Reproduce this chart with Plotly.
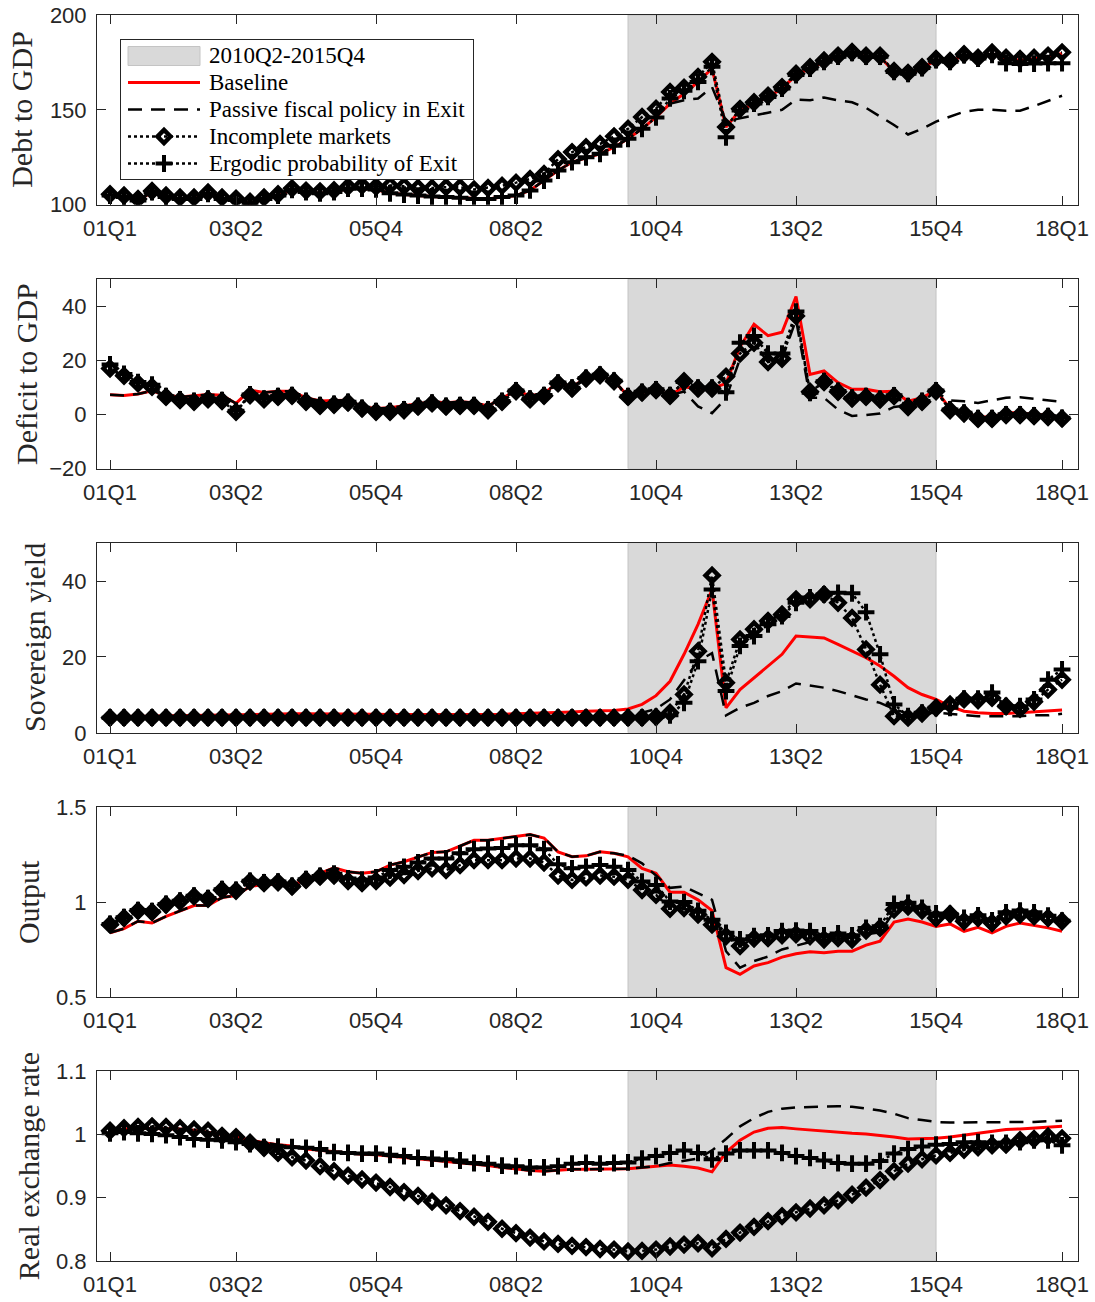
import plotly.graph_objects as go

# Quarterly sample 2001Q1 - 2018Q1
quarters = [f"{y % 100:02d}Q{q}" for y in range(2001, 2019) for q in range(1, 5)][:69]
tick_quarters = ["01Q1", "03Q2", "05Q4", "08Q2", "10Q4", "13Q2", "15Q4", "18Q1"]
shade_start, shade_end = "10Q2", "15Q4"
shade_label = "2010Q2-2015Q4"

series_names = ["Baseline", "Passive fiscal policy in Exit",
                "Incomplete markets", "Ergodic probability of Exit"]

# ---- Debt to GDP ----
debt_baseline = [104.8, 104.0, 102.2, 106.6, 104.0, 103.0, 103.0, 105.7, 103.0, 102.5,
                 100.7, 103.0, 104.8, 107.8, 106.6, 106.0, 106.6, 108.5, 108.5, 108.0,
                 106.0, 105.3, 104.8, 104.3, 104.0, 103.6, 103.0, 103.0, 104.0, 104.8,
                 107.5, 112.7, 118.0, 122.4, 124.5, 126.8, 130.3, 134.7, 140.0, 146.2,
                 153.3, 158.5, 164.7, 171.8, 140.9, 149.7, 153.3, 156.8, 161.2, 168.3,
                 171.8, 175.3, 178.0, 180.0, 178.0, 178.0, 170.0, 169.0, 172.0, 176.2,
                 175.3, 178.8, 177.0, 179.7, 177.0, 176.2, 177.0, 178.0, 179.7]
debt_passive = [104.8, 104.0, 102.2, 106.6, 104.0, 103.0, 103.0, 105.7, 103.0, 102.5,
                100.7, 103.0, 104.8, 107.8, 106.6, 106.0, 106.6, 108.5, 108.5, 108.0,
                106.0, 105.3, 104.8, 104.3, 104.0, 103.6, 103.0, 103.0, 104.0, 104.8,
                107.5, 112.7, 118.0, 122.4, 124.5, 126.8, 130.3, 134.7, 140.0, 146.2,
                153.3, 155.0, 156.0, 162.0, 144.0, 145.6, 147.0, 148.5, 150.0, 155.5,
                155.0, 156.5, 155.0, 154.0, 151.0, 146.5, 142.0, 137.0, 140.0, 143.8,
                146.5, 149.0, 150.0, 150.0, 149.5, 149.5, 152.0, 154.6, 157.4]
debt_incomplete = [105.5, 104.8, 103.0, 107.2, 104.8, 103.8, 103.8, 106.4, 103.8, 103.2,
                   101.5, 103.8, 105.5, 108.6, 107.4, 107.0, 107.6, 109.5, 110.1, 109.5,
                   110.1, 109.7, 108.8, 108.8, 109.2, 109.2, 108.0, 108.8, 110.0, 111.6,
                   113.5, 116.2, 124.0, 127.7, 130.3, 132.0, 136.0, 140.0, 146.2, 150.6,
                   159.4, 161.7, 167.4, 175.3, 140.9, 150.5, 154.0, 157.5, 162.0, 169.0,
                   172.5, 176.0, 178.6, 180.5, 178.5, 178.5, 170.5, 169.5, 172.5, 176.8,
                   175.8, 179.3, 177.5, 180.2, 177.5, 176.8, 177.5, 178.6, 180.3]
debt_ergodic = [104.8, 104.0, 102.2, 106.6, 104.0, 103.0, 103.0, 105.7, 103.0, 102.5,
                100.7, 103.0, 104.8, 107.8, 106.6, 106.0, 106.6, 108.5, 108.5, 108.0,
                106.0, 105.3, 104.8, 104.3, 104.0, 103.6, 103.0, 103.0, 104.0, 104.8,
                107.5, 112.7, 118.0, 122.4, 125.0, 126.8, 131.0, 134.7, 140.0, 146.0,
                156.0, 160.0, 164.7, 172.7, 135.5, 149.7, 153.3, 156.8, 161.2, 168.3,
                171.8, 175.3, 178.0, 180.0, 178.0, 178.0, 170.0, 169.0, 172.0, 176.2,
                175.3, 178.8, 177.0, 179.0, 174.6, 174.2, 174.4, 174.6, 174.6]

# ---- Deficit to GDP ----
deficit_baseline = [7.3, 7.0, 7.6, 8.8, 7.1, 6.5, 6.9, 7.4, 7.1, 4.1,
                    9.0, 8.1, 8.6, 8.6, 6.2, 5.0, 5.2, 5.3, 2.9, 2.2,
                    2.5, 3.2, 4.1, 4.7, 4.4, 4.7, 4.4, 3.2, 5.9, 9.0,
                    6.9, 7.8, 11.9, 10.2, 13.5, 14.5, 12.3, 6.9, 8.1, 9.0,
                    7.1, 10.2, 9.6, 9.6, 11.5, 25.0, 33.3, 29.1, 30.4, 43.6,
                    14.8, 16.1, 11.8, 9.3, 9.3, 8.4, 8.6, 4.9, 6.2, 9.0,
                    2.2, 0.7, -0.9, -0.9, 0.7, 0.7, 0.0, -0.2, -1.2]
deficit_passive = [7.3, 7.0, 7.6, 8.8, 7.1, 6.5, 6.9, 7.4, 7.1, 4.1,
                   9.0, 8.1, 8.6, 8.6, 6.2, 5.0, 5.2, 5.3, 2.9, 2.2,
                   2.5, 3.2, 4.1, 4.7, 4.4, 4.7, 4.4, 3.2, 5.9, 9.0,
                   6.9, 7.8, 11.9, 10.2, 13.5, 14.5, 12.3, 6.9, 8.1, 9.0,
                   7.1, 8.5, 3.0, 0.5, 6.0, 20.6, 25.0, 20.0, 20.6, 35.0,
                   6.2, 6.2, 1.8, -0.5, -0.2, 0.4, 2.8, 3.4, 4.7, 8.2,
                   5.2, 4.9, 4.3, 5.2, 6.2, 6.4, 5.9, 5.2, 4.7]
deficit_incomplete = [17.0, 14.3, 11.5, 10.2, 6.5, 5.3, 4.7, 5.6, 5.0, 1.0,
                      7.1, 5.6, 6.5, 6.9, 4.7, 3.2, 3.6, 4.4, 2.2, 1.0,
                      1.0, 1.6, 2.9, 4.1, 2.9, 3.2, 3.2, 1.6, 4.7, 8.6,
                      5.6, 6.9, 11.5, 9.6, 13.3, 14.5, 12.3, 6.5, 8.1, 9.0,
                      6.9, 12.3, 9.6, 9.6, 14.0, 22.5, 26.5, 19.4, 20.6, 36.4,
                      8.4, 12.0, 8.4, 5.9, 6.5, 5.5, 6.8, 2.8, 4.7, 8.6,
                      1.6, 0.4, -1.6, -1.6, -0.2, -0.2, -0.6, -0.9, -1.5]
deficit_ergodic = [18.5, 15.0, 12.0, 11.0, 6.8, 5.6, 5.0, 5.9, 5.3, 1.4,
                   7.4, 5.9, 6.8, 7.2, 5.0, 3.5, 3.9, 4.7, 2.5, 1.3,
                   1.3, 1.9, 3.2, 4.4, 3.2, 3.5, 3.5, 1.9, 5.0, 8.9,
                   5.9, 7.2, 11.8, 9.9, 13.5, 14.7, 12.5, 6.8, 8.4, 9.3,
                   7.2, 12.0, 9.9, 9.9, 8.2, 26.5, 29.0, 22.5, 22.5, 38.0,
                   8.0, 12.3, 8.7, 6.2, 6.8, 5.8, 7.1, 3.1, 5.0, 8.9,
                   1.9, 0.7, -1.3, -1.3, 0.1, 0.1, -0.3, -0.6, -1.2]

# ---- Sovereign yield ----
yield_baseline = [4.3, 4.3, 4.4, 4.4, 4.5, 4.5, 4.6, 4.6, 4.7, 4.8,
                  4.9, 4.9, 5.0, 5.0, 5.0, 5.0, 5.0, 5.0, 4.9, 4.9,
                  4.8, 4.8, 4.8, 4.8, 4.8, 4.8, 4.8, 4.9, 4.9, 5.0,
                  5.1, 5.2, 5.4, 5.5, 5.7, 5.8, 5.9, 6.3, 7.5, 9.8,
                  13.6, 20.7, 28.6, 37.8, 6.6, 11.4, 14.5, 17.6, 20.7, 25.5,
                  25.2, 25.0, 23.3, 21.5, 19.8, 17.6, 14.9, 11.9, 10.1, 8.8,
                  7.0, 5.7, 5.3, 5.1, 5.1, 5.3, 5.5, 5.7, 6.0]
yield_passive = [4.2, 4.2, 4.2, 4.2, 4.2, 4.2, 4.2, 4.2, 4.2, 4.2,
                 4.2, 4.2, 4.2, 4.2, 4.2, 4.2, 4.2, 4.2, 4.2, 4.2,
                 4.2, 4.2, 4.2, 4.2, 4.2, 4.2, 4.2, 4.2, 4.2, 4.2,
                 4.2, 4.2, 4.2, 4.2, 4.3, 4.3, 4.4, 4.6, 5.3, 6.3,
                 8.8, 14.0, 18.9, 21.0, 4.6, 6.6, 7.9, 9.7, 11.0, 13.0,
                 12.5, 11.9, 11.0, 9.8, 8.8, 7.9, 6.3, 5.0, 5.0, 5.3,
                 5.0, 4.6, 4.4, 4.4, 4.4, 4.4, 4.6, 4.6, 5.0]
yield_incomplete = [4.0, 4.0, 4.0, 4.0, 4.0, 4.0, 4.0, 4.0, 4.0, 4.0,
                    4.0, 4.0, 4.0, 4.0, 4.0, 4.0, 4.0, 4.0, 4.0, 4.0,
                    4.0, 4.0, 4.0, 4.0, 4.0, 4.0, 4.0, 4.0, 4.0, 4.0,
                    4.0, 4.0, 4.0, 4.0, 4.0, 4.0, 4.0, 4.0, 4.0, 4.2,
                    5.3, 10.1, 21.5, 41.5, 13.2, 24.6, 27.3, 29.5, 31.2, 35.2,
                    35.2, 36.5, 34.3, 30.3, 22.0, 12.7, 4.4, 4.0, 5.1, 6.6,
                    7.5, 8.8, 8.6, 9.2, 7.0, 6.3, 8.2, 11.4, 14.0]
yield_ergodic = [4.0, 4.0, 4.0, 4.0, 4.0, 4.0, 4.0, 4.0, 4.0, 4.0,
                 4.0, 4.0, 4.0, 4.0, 4.0, 4.0, 4.0, 4.0, 4.0, 4.0,
                 4.0, 4.0, 4.0, 4.0, 4.0, 4.0, 4.0, 4.0, 4.0, 4.0,
                 4.0, 4.0, 4.0, 4.0, 4.0, 4.0, 4.0, 4.0, 4.0, 4.2,
                 4.6, 7.9, 18.9, 37.8, 11.0, 22.9, 25.5, 28.6, 30.8, 34.3,
                 35.7, 36.5, 36.9, 36.8, 31.8, 20.7, 7.5, 4.4, 5.3, 6.6,
                 6.6, 9.0, 9.0, 10.6, 7.0, 7.0, 8.8, 14.0, 16.7]

# ---- Output ----
output_baseline = [0.838, 0.860, 0.899, 0.890, 0.925, 0.955, 0.982, 0.982, 1.024, 1.035,
                   1.082, 1.094, 1.094, 1.090, 1.117, 1.152, 1.181, 1.160, 1.152, 1.160,
                   1.195, 1.213, 1.239, 1.262, 1.265, 1.296, 1.326, 1.326, 1.335, 1.347,
                   1.356, 1.338, 1.265, 1.239, 1.244, 1.265, 1.257, 1.239, 1.178, 1.152,
                   1.052, 1.052, 1.012, 0.955, 0.654, 0.619, 0.663, 0.681, 0.710, 0.728,
                   0.738, 0.733, 0.741, 0.741, 0.773, 0.794, 0.895, 0.911, 0.895, 0.872,
                   0.885, 0.846, 0.867, 0.838, 0.872, 0.890, 0.878, 0.864, 0.846]
output_passive = [0.838, 0.860, 0.899, 0.890, 0.925, 0.955, 0.982, 0.982, 1.024, 1.035,
                  1.082, 1.094, 1.094, 1.090, 1.117, 1.152, 1.181, 1.160, 1.152, 1.160,
                  1.195, 1.213, 1.239, 1.262, 1.265, 1.296, 1.326, 1.326, 1.335, 1.347,
                  1.356, 1.338, 1.265, 1.239, 1.244, 1.265, 1.257, 1.245, 1.204, 1.140,
                  1.075, 1.082, 1.045, 1.012, 0.741, 0.654, 0.689, 0.713, 0.750, 0.768,
                  0.790, 0.800, 0.810, 0.810, 0.830, 0.840, 0.950, 0.975, 0.955, 0.925,
                  0.940, 0.905, 0.920, 0.895, 0.925, 0.935, 0.928, 0.918, 0.900]
output_incomplete = [0.881, 0.916, 0.954, 0.948, 0.986, 1.003, 1.030, 1.017, 1.064, 1.060,
                     1.108, 1.100, 1.104, 1.082, 1.117, 1.134, 1.140, 1.111, 1.100, 1.111,
                     1.129, 1.143, 1.164, 1.178, 1.169, 1.195, 1.221, 1.221, 1.221, 1.230,
                     1.230, 1.209, 1.140, 1.117, 1.130, 1.140, 1.134, 1.117, 1.064, 1.038,
                     0.965, 0.969, 0.934, 0.881, 0.820, 0.768, 0.808, 0.810, 0.825, 0.830,
                     0.820, 0.803, 0.810, 0.803, 0.850, 0.864, 0.960, 0.977, 0.955, 0.916,
                     0.937, 0.899, 0.916, 0.890, 0.925, 0.934, 0.925, 0.916, 0.899]
output_ergodic = [0.885, 0.920, 0.958, 0.952, 0.990, 1.007, 1.034, 1.021, 1.068, 1.064,
                  1.112, 1.104, 1.108, 1.086, 1.121, 1.138, 1.150, 1.125, 1.118, 1.130,
                  1.169, 1.186, 1.209, 1.230, 1.230, 1.257, 1.279, 1.282, 1.285, 1.300,
                  1.300, 1.279, 1.199, 1.178, 1.186, 1.195, 1.186, 1.169, 1.108, 1.090,
                  1.003, 1.000, 0.954, 0.907, 0.838, 0.803, 0.820, 0.825, 0.847, 0.850,
                  0.847, 0.825, 0.835, 0.825, 0.864, 0.873, 0.990, 0.996, 0.970, 0.940,
                  0.937, 0.916, 0.930, 0.904, 0.946, 0.955, 0.946, 0.928, 0.902]

# ---- Real exchange rate ----
rer_baseline = [1.006, 1.009, 1.010, 1.010, 1.010, 1.009, 1.007, 1.004, 1.000, 0.996,
                0.991, 0.987, 0.984, 0.982, 0.977, 0.975, 0.972, 0.970, 0.969, 0.968,
                0.966, 0.963, 0.961, 0.959, 0.957, 0.955, 0.953, 0.951, 0.948, 0.945,
                0.943, 0.942, 0.944, 0.945, 0.945, 0.945, 0.945, 0.946, 0.948, 0.950,
                0.952, 0.950, 0.947, 0.941, 0.972, 0.991, 1.004, 1.010, 1.011, 1.009,
                1.007, 1.005, 1.004, 1.002, 1.001, 0.999, 0.996, 0.993, 0.993, 0.994,
                0.996, 0.999, 1.003, 1.006, 1.008, 1.009, 1.010, 1.011, 1.013]
rer_passive = [1.006, 1.009, 1.010, 1.010, 1.010, 1.009, 1.007, 1.004, 1.000, 0.996,
               0.991, 0.987, 0.984, 0.982, 0.977, 0.975, 0.972, 0.970, 0.969, 0.968,
               0.966, 0.963, 0.961, 0.959, 0.957, 0.955, 0.953, 0.951, 0.948, 0.945,
               0.943, 0.942, 0.944, 0.945, 0.945, 0.945, 0.945, 0.946, 0.948, 0.950,
               0.955, 0.958, 0.962, 0.975, 0.993, 1.013, 1.026, 1.036, 1.041, 1.043,
               1.044, 1.045, 1.045, 1.044, 1.041, 1.038, 1.033, 1.026, 1.023, 1.020,
               1.019, 1.019, 1.020, 1.020, 1.020, 1.020, 1.020, 1.021, 1.022]
rer_incomplete = [1.006, 1.010, 1.012, 1.013, 1.012, 1.010, 1.008, 1.006, 0.998, 0.996,
                  0.987, 0.979, 0.971, 0.964, 0.959, 0.950, 0.942, 0.935, 0.929, 0.924,
                  0.917, 0.909, 0.903, 0.894, 0.888, 0.879, 0.870, 0.862, 0.851, 0.844,
                  0.837, 0.831, 0.827, 0.824, 0.822, 0.819, 0.818, 0.815, 0.816, 0.818,
                  0.823, 0.826, 0.828, 0.820, 0.835, 0.845, 0.854, 0.863, 0.871, 0.877,
                  0.883, 0.888, 0.896, 0.905, 0.916, 0.928, 0.942, 0.954, 0.961, 0.967,
                  0.971, 0.976, 0.980, 0.983, 0.984, 0.991, 0.993, 0.997, 0.994]
rer_ergodic = [1.002, 1.004, 1.002, 1.001, 0.999, 0.996, 0.993, 0.992, 0.991, 0.988,
               0.985, 0.980, 0.981, 0.980, 0.979, 0.977, 0.972, 0.971, 0.970, 0.970,
               0.968, 0.966, 0.963, 0.962, 0.961, 0.959, 0.955, 0.954, 0.951, 0.950,
               0.948, 0.948, 0.950, 0.954, 0.955, 0.954, 0.955, 0.956, 0.962, 0.966,
               0.971, 0.975, 0.971, 0.961, 0.970, 0.975, 0.975, 0.975, 0.971, 0.966,
               0.963, 0.959, 0.955, 0.954, 0.954, 0.958, 0.970, 0.977, 0.981, 0.984,
               0.985, 0.988, 0.988, 0.987, 0.987, 0.988, 0.991, 0.991, 0.983]

panels = [
    dict(title="Debt to GDP", yrange=[100, 200], yticks=[100, 150, 200], title_px=22,
         data=[debt_baseline, debt_passive, debt_incomplete, debt_ergodic]),
    dict(title="Deficit to GDP", yrange=[-20, 50], yticks=[-20, 0, 20, 40], title_px=27,
         data=[deficit_baseline, deficit_passive, deficit_incomplete, deficit_ergodic]),
    dict(title="Sovereign yield", yrange=[0, 50], yticks=[0, 20, 40], title_px=34,
         data=[yield_baseline, yield_passive, yield_incomplete, yield_ergodic]),
    dict(title="Output", yrange=[0.5, 1.5], yticks=[0.5, 1, 1.5], title_px=28,
         data=[output_baseline, output_passive, output_incomplete, output_ergodic]),
    dict(title="Real exchange rate", yrange=[0.8, 1.1], yticks=[0.8, 0.9, 1, 1.1], title_px=28,
         data=[rer_baseline, rer_passive, rer_incomplete, rer_ergodic]),
]

# ---- page geometry (pixels) ----
W, H = 1095, 1302
ML, MR, MT, MB = 97, 17, 15, 41
PW, PH = W - ML - MR, H - MT - MB

AXIS_COLOR = "#262626"
TICK_FONT = dict(family="Liberation Sans", size=22, color=AXIS_COLOR)
LABEL_FONT = dict(family="Liberation Serif", size=30, color=AXIS_COLOR)
LEGEND_FONT = dict(family="Liberation Serif", size=23, color="black")
SHADE_FILL, SHADE_EDGE = "#d9d9d9", "#c4c4c4"

line_styles = [
    dict(color="#ff0000", width=3),
    dict(color="black", width=2.5, dash="14px,9px"),
    dict(color="black", width=2.5, dash="3px,3px"),
    dict(color="black", width=2.5, dash="3px,3px"),
]
marker_styles = [
    None,
    None,
    dict(symbol="diamond-open", size=10, color="black", line=dict(color="black", width=4.5)),
    dict(symbol="cross-thin-open", size=12, color="black", line=dict(color="black", width=4)),
]

fig = go.Figure()

n = len(panels)
panel_h = 0.1522
gap = (1 - n * panel_h) / (n - 1)

layout_axes = {}
annotations = []
for k, p in enumerate(panels):
    idx = "" if k == 0 else str(k + 1)
    xa, ya = "x" + idx, "y" + idx
    top = 1 - k * (panel_h + gap)
    bottom = top - panel_h
    y0, y1 = p["yrange"]

    # Shaded window 2010Q2-2015Q4
    fig.add_trace(go.Scatter(
        x=[shade_start, shade_end, shade_end, shade_start, shade_start],
        y=[y0, y0, y1, y1, y0], fill="toself", mode="lines",
        fillcolor=SHADE_FILL, line=dict(color=SHADE_EDGE, width=1),
        name=shade_label, hoverinfo="skip", xaxis=xa, yaxis=ya))

    for name, vals, ls, ms in zip(series_names, p["data"], line_styles, marker_styles):
        kw = dict(mode="lines+markers", marker=ms) if ms else dict(mode="lines")
        fig.add_trace(go.Scatter(x=quarters, y=vals, name=name, line=ls,
                                 xaxis=xa, yaxis=ya, **kw))

    layout_axes["xaxis" + idx] = dict(
        type="category", categoryorder="array", categoryarray=quarters,
        range=[-0.93, 69.14], tickmode="array", tickvals=tick_quarters,
        ticktext=tick_quarters, ticks="inside", ticklen=9, tickwidth=1,
        tickcolor=AXIS_COLOR, mirror="ticks", showline=True, linecolor=AXIS_COLOR,
        linewidth=1, showgrid=False, zeroline=False, tickfont=TICK_FONT,
        anchor=ya, domain=[0, 1], ticklabelstandoff=4)
    layout_axes["yaxis" + idx] = dict(
        range=p["yrange"], tickmode="array", tickvals=p["yticks"],
        ticks="inside", ticklen=9, tickwidth=1, tickcolor=AXIS_COLOR,
        mirror="ticks", showline=True, linecolor=AXIS_COLOR, linewidth=1,
        showgrid=False, zeroline=False, tickfont=TICK_FONT,
        anchor=xa, domain=[bottom, top], ticklabelstandoff=5)

    annotations.append(dict(
        text=p["title"], xref="paper", yref="paper",
        x=(p["title_px"] - ML) / PW, y=(top + bottom) / 2,
        xanchor="center", yanchor="middle",
        textangle=-90, showarrow=False, font=LABEL_FONT))

# ---- legend box drawn on its own pixel-scaled axes inside the top panel ----
LEG_L, LEG_R, LEG_T, LEG_B = 121, 473, 40, 179   # box edges in page pixels
leg_w, leg_h = LEG_R - LEG_L, LEG_B - LEG_T
row_y = [15.5, 42.5, 69.5, 96.5, 123.5]          # row centres, px below box top
sample_x0, sample_x1, text_x = 7, 79, 86          # px from box left
sample_mid = (sample_x0 + sample_x1) / 2

layout_axes["xaxis6"] = dict(domain=[(LEG_L - ML) / PW, (LEG_R - ML) / PW],
                             range=[0, leg_w], anchor="y6", showline=True, mirror=True,
                             linecolor=AXIS_COLOR, linewidth=1, ticks="",
                             showticklabels=False, showgrid=False, zeroline=False,
                             fixedrange=True)
layout_axes["yaxis6"] = dict(domain=[1 - (LEG_B - MT) / PH, 1 - (LEG_T - MT) / PH],
                             range=[leg_h, 0], anchor="x6", showline=True, mirror=True,
                             linecolor=AXIS_COLOR, linewidth=1, ticks="",
                             showticklabels=False, showgrid=False, zeroline=False,
                             fixedrange=True)

fig.add_trace(go.Scatter(
    x=[sample_x0, sample_x1, sample_x1, sample_x0, sample_x0],
    y=[row_y[0] - 9, row_y[0] - 9, row_y[0] + 10, row_y[0] + 10, row_y[0] - 9],
    fill="toself", mode="lines", fillcolor=SHADE_FILL,
    line=dict(color=SHADE_EDGE, width=1), hoverinfo="skip", xaxis="x6", yaxis="y6"))
for r, ls, ms in zip(row_y[1:], line_styles, marker_styles):
    fig.add_trace(go.Scatter(x=[sample_x0, sample_x1], y=[r, r], mode="lines", line=ls,
                             hoverinfo="skip", xaxis="x6", yaxis="y6"))
    if ms:
        fig.add_trace(go.Scatter(x=[sample_mid], y=[r], mode="markers", marker=ms,
                                 hoverinfo="skip", xaxis="x6", yaxis="y6"))
for r, label in zip(row_y, [shade_label] + series_names):
    annotations.append(dict(text=label, xref="x6", yref="y6", x=text_x, y=r,
                            xanchor="left", yanchor="middle", showarrow=False,
                            font=LEGEND_FONT))

fig.update_layout(
    width=W, height=H,
    margin=dict(l=ML, r=MR, t=MT, b=MB, autoexpand=False),
    paper_bgcolor="white", plot_bgcolor="white",
    showlegend=False,
    annotations=annotations,
    **layout_axes,
)

fig.write_html("out.html")
